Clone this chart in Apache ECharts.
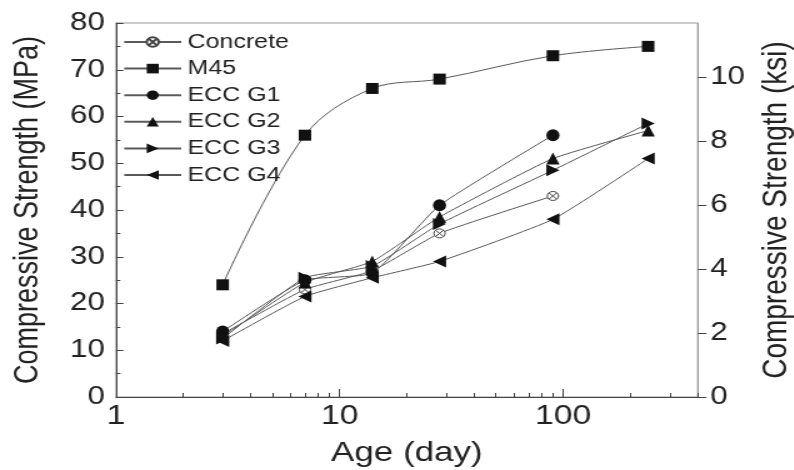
<!DOCTYPE html>
<html>
<head>
<meta charset="utf-8">
<script src="https://cdn.jsdelivr.net/npm/echarts@6/dist/echarts.min.js"></script>
<style>
  html, body { margin: 0; padding: 0; background: #fff; overflow: hidden; }
  #frame { width: 794px; height: 470px; overflow: hidden; }
  /* the figure is laid out narrower and widened horizontally */
  #chart { width: 635px; height: 470px; transform: scaleX(1.25); transform-origin: 0 0; }
</style>
</head>
<body>
<div id="frame"><div id="chart"></div></div>
<script>
// Curing age in days
var ages = [3, 7, 14, 28, 90, 240];

// Compressive strength (MPa) per mix
var concrete = [13.5, 23, 27, 35, 43];
var m45 = [24, 56, 66, 68, 73, 75];
var eccG1 = [14, 25, 26.5, 41, 56];
var eccG2 = [13, 24.5, 29, 38.5, 51, 57];
var eccG3 = [12.5, 25.5, 28, 37, 48.5, 58.5];
var eccG4 = [12, 21.5, 25.5, 29, 38, 51];

// Axis ticks
var xMajorTicks = [1, 10, 100];
var xAllTicks = [1, 2, 3, 4, 5, 6, 7, 8, 9, 10, 20, 30, 40, 50, 60, 70, 80, 90, 100, 200, 300, 400];
var ksiTicks = [0, 2, 4, 6, 8, 10];

var FONT = '"Liberation Sans", Arial, sans-serif';
var LINE = '#5a5a5a';
var INK = '#111';
var TXT = '#222';

function pairs(vals) {
  return vals.map(function (v, i) { return [ages[i], v]; });
}

var crossCircle = 'path://M1.5,1.5 L8.5,8.5 M8.5,1.5 L1.5,8.5 M10,5 A5,5 0 1 1 0,5 A5,5 0 1 1 10,5 Z';
var triRight = 'path://M0,0 L10,5 L0,10 Z';
var triLeft = 'path://M10,0 L0,5 L10,10 Z';

function series(name, vals, symbol, size, smooth, hollow) {
  return {
    name: name,
    type: 'line',
    xAxisIndex: 0,
    yAxisIndex: 0,
    data: pairs(vals),
    smooth: smooth,
    symbol: symbol,
    symbolSize: size,
    showAllSymbol: true,
    lineStyle: { color: LINE, width: 1 },
    itemStyle: hollow
      ? { color: '#fff', borderColor: '#444', borderWidth: 1 }
      : { color: INK, borderWidth: 0 },
    z: 3
  };
}

var chart = echarts.init(document.getElementById('chart'), null, { renderer: 'canvas' });

chart.setOption({
  animation: false,
  backgroundColor: '#fff',
  textStyle: { fontFamily: FONT },
  grid: {
    left: 92.8, right: 76.8, top: 23, bottom: 73,
    containLabel: false, outerBoundsMode: 'none',
    show: true, borderColor: '#9a9a9a', borderWidth: 1, backgroundColor: 'transparent'
  },
  legend: {
    left: 93.4, top: 27, orient: 'vertical',
    itemWidth: 45.6, itemHeight: 12, itemGap: 6.6, itemTextGap: 6.4,
    textStyle: { fontFamily: FONT, fontSize: 20, color: TXT },
    data: ['Concrete', 'M45', 'ECC G1', 'ECC G2', 'ECC G3', 'ECC G4']
  },
  xAxis: [
    {
      type: 'log', logBase: 10, min: 1, max: 400,
      name: 'Age (day)', nameLocation: 'middle', nameGap: 42,
      nameTextStyle: { fontFamily: FONT, fontSize: 28, color: TXT },
      axisLine: { show: true, lineStyle: { color: '#444', width: 1 } },
      axisTick: { show: true, inside: true, length: 4, customValues: xAllTicks, lineStyle: { color: '#444' } },
      axisLabel: { show: true, customValues: xMajorTicks, margin: 6, fontFamily: FONT, fontSize: 27, color: TXT },
      splitLine: { show: false }
    },
    {
      type: 'log', logBase: 10, min: 1, max: 400, position: 'bottom',
      axisLine: { show: false },
      axisTick: { show: true, inside: true, length: 8, customValues: xMajorTicks, lineStyle: { color: '#444' } },
      axisLabel: { show: false },
      splitLine: { show: false }
    }
  ],
  yAxis: [
    {
      type: 'value', min: 0, max: 80, interval: 10, position: 'left',
      name: 'Compressive Strength (MPa)', nameLocation: 'middle', nameGap: 57, nameRotate: 90,
      nameTextStyle: { fontFamily: FONT, fontSize: 27, color: TXT },
      axisLine: { show: true, lineStyle: { color: '#444', width: 1 } },
      axisTick: { show: true, inside: true, length: 6, lineStyle: { color: '#444' } },
      minorTick: { show: true, splitNumber: 2, length: 3.5, lineStyle: { color: '#444' } },
      axisLabel: { margin: 9, fontFamily: FONT, fontSize: 25, color: TXT },
      splitLine: { show: false }
    },
    {
      type: 'value', min: 0, max: 11.7, position: 'right',
      name: 'Compressive Strength (ksi)', nameLocation: 'middle', nameGap: 47, nameRotate: 90,
      nameTextStyle: { fontFamily: FONT, fontSize: 28, color: TXT },
      axisLine: { show: true, lineStyle: { color: '#9a9a9a', width: 1 } },
      axisTick: { show: true, inside: false, length: 7, customValues: ksiTicks, lineStyle: { color: '#444' } },
      axisLabel: { customValues: ksiTicks, margin: 10, fontFamily: FONT, fontSize: 25, color: TXT },
      splitLine: { show: false }
    }
  ],
  series: [
    series('Concrete', concrete, crossCircle, 9, 0.15, true),
    series('M45', m45, 'rect', [10, 11], 0.35, false),
    series('ECC G1', eccG1, 'circle', [10.5, 12], 0.15, false),
    series('ECC G2', eccG2, 'triangle', [10.5, 12], 0.15, false),
    series('ECC G3', eccG3, triRight, [10.5, 12], 0.15, false),
    series('ECC G4', eccG4, triLeft, [10.5, 12], 0.15, false),
    // binds the second (major-tick) x axis
    { type: 'line', xAxisIndex: 1, yAxisIndex: 0, data: [], silent: true }
  ]
});
</script>
</body>
</html>
